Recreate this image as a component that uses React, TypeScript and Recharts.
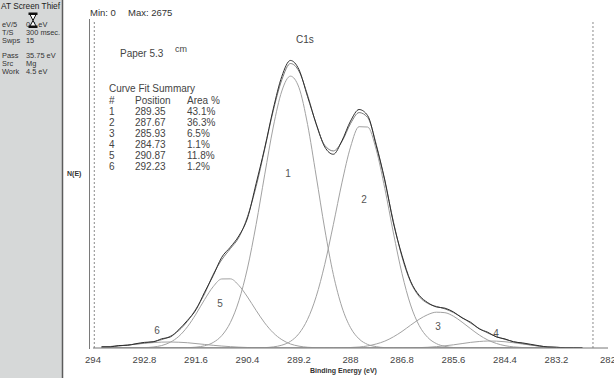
import React from 'react';
import { LineChart, Line, XAxis, YAxis, ReferenceLine } from 'recharts';

// Binding energy grid (eV)
const energy = [
  293.8, 293.6, 293.4, 293.2, 293.0, 292.8, 292.6, 292.4, 292.2, 292.0,
  291.8, 291.6, 291.4, 291.2, 291.0, 290.8, 290.6, 290.4, 290.2, 290.0,
  289.8, 289.6, 289.4, 289.2, 289.0, 288.8, 288.6, 288.4, 288.2, 288.0,
  287.8, 287.6, 287.4, 287.2, 287.0, 286.8, 286.6, 286.4, 286.2, 286.0,
  285.8, 285.6, 285.4, 285.2, 285.0, 284.8, 284.6, 284.4, 284.2, 284.0,
  283.8, 283.6, 283.4, 283.2, 283.0, 282.8, 282.6,
];

// Raw spectrum (counts)
const rawCounts = [
  10, 9, 20, 22, 35, 46, 50, 75, 90, 150,
  225, 312, 455, 590, 740, 822, 915, 1060, 1340, 1630,
  1950, 2215, 2345, 2270, 2050, 1830, 1640, 1580, 1690, 1850,
  1945, 1895, 1650, 1370, 1020, 755, 545, 430, 370, 335,
  325, 294, 245, 210, 156, 128, 90, 74, 50, 42,
  30, 18, 8, 6, 2, 2, 1,
];

// Fitted envelope (counts)
const envelope = [
  8, 12, 17, 24, 32, 41, 52, 68, 96, 143,
  218, 320, 442, 600, 720, 810, 903, 1072, 1316, 1621,
  1936, 2187, 2320, 2256, 2063, 1824, 1653, 1607, 1683, 1830,
  1920, 1880, 1660, 1359, 1030, 743, 539, 420, 364, 339,
  319, 289, 249, 203, 159, 122, 93, 70, 52, 37,
  25, 15, 9, 5, 3, 1, 1,
];

// Fitted components (counts)
const comp1 = [
  0, 0, 0, 0, 0, 0, 0, 0, 0, 1,
  2, 7, 18, 45, 101, 207, 386, 652, 1006, 1412,
  1802, 2096, 2217, 2123, 1823, 1403, 970, 600, 334, 166,
  74, 29, 11, 3, 1, 0, 0, 0, 0, 0,
  0, 0, 0, 0, 0, 0, 0, 0, 0, 0,
  0, 0, 0, 0, 0, 0, 0,
];
const comp2 = [
  0, 0, 0, 0, 0, 0, 0, 0, 0, 0,
  0, 0, 0, 0, 0, 0, 0, 0, 1, 3,
  9, 23, 54, 118, 234, 419, 682, 1006, 1347, 1638,
  1805, 1802, 1616, 1300, 938, 607, 351, 183, 86, 36,
  13, 4, 2, 0, 0, 0, 0, 0, 0, 0,
  0, 0, 0, 0, 0, 0, 0,
];
const comp3 = [
  0, 0, 0, 0, 0, 0, 0, 0, 0, 0,
  0, 0, 0, 0, 0, 0, 0, 0, 0, 0,
  0, 0, 0, 0, 0, 0, 0, 1, 2, 4,
  8, 17, 33, 56, 91, 135, 186, 234, 272, 292,
  288, 259, 211, 157, 106, 65, 37, 19, 9, 4,
  1, 0, 0, 0, 0, 0, 0,
];
const comp4 = [
  0, 0, 0, 0, 0, 0, 0, 0, 0, 0,
  0, 0, 0, 0, 0, 0, 0, 0, 0, 0,
  0, 0, 0, 0, 0, 0, 0, 0, 0, 0,
  0, 0, 0, 0, 0, 1, 2, 3, 6, 11,
  18, 26, 36, 46, 53, 57, 56, 51, 43, 33,
  24, 15, 9, 5, 3, 1, 1,
];
const comp5 = [
  0, 0, 0, 0, 1, 3, 8, 20, 47, 95,
  173, 277, 395, 500, 563, 564, 510, 416, 307, 205,
  124, 68, 33, 15, 6, 2, 1, 0, 0, 0,
  0, 0, 0, 0, 0, 0, 0, 0, 0, 0,
  0, 0, 0, 0, 0, 0, 0, 0, 0, 0,
  0, 0, 0, 0, 0, 0, 0,
];
const comp6 = [
  8, 12, 17, 24, 31, 38, 44, 48, 49, 47,
  43, 36, 29, 22, 16, 11, 7, 4, 2, 1,
  1, 0, 0, 0, 0, 0, 0, 0, 0, 0,
  0, 0, 0, 0, 0, 0, 0, 0, 0, 0,
  0, 0, 0, 0, 0, 0, 0, 0, 0, 0,
  0, 0, 0, 0, 0, 0, 0,
];

const xTicks = [294, 292.8, 291.6, 290.4, 289.2, 288, 286.8, 285.6, 284.4, 283.2, 282];

// Curve fit summary table
const peakIds = ['1', '2', '3', '4', '5', '6'];
const peakPositions = ['289.35', '287.67', '285.93', '284.73', '290.87', '292.23'];
const peakAreas = ['43.1%', '36.3%', '6.5%', '1.1%', '11.8%', '1.2%'];

// Acquisition parameters panel
const paramNames = ['eV/5', 'T/S', 'Swps', 'Pass', 'Src', 'Work'];
const paramValues = ['0.1 eV', '300 msec.', '15', '35.75 eV', 'Mg', '4.5 eV'];

const data = energy.map((e, i) => ({
  e,
  raw: rawCounts[i],
  env: envelope[i],
  c1: comp1[i],
  c2: comp2[i],
  c3: comp3[i],
  c4: comp4[i],
  c5: comp5[i],
  c6: comp6[i],
}));

const FONT = '"Liberation Sans", Arial, sans-serif';
const compColor = '#a2a2a2';

export default function App() {
  const paramY = [27, 35, 43, 58, 66, 74];
  return (
    <div
      style={{
        position: 'fixed',
        left: 0,
        top: 0,
        width: 614,
        height: 378,
        background: '#fff',
        overflow: 'hidden',
        fontFamily: FONT,
      }}
    >
      <div style={{ position: 'absolute', left: 0, top: 0 }}>
        <LineChart
          width={614}
          height={378}
          data={data}
          margin={{ top: 20, right: 6, bottom: 10, left: 93 }}
        >
          <XAxis
            dataKey="e"
            type="number"
            domain={[282, 294]}
            reversed
            ticks={xTicks}
            interval={0}
            allowDataOverflow
            height={20}
            tickLine={false}
            axisLine={{ stroke: '#777', strokeWidth: 1 }}
            tick={{ fontSize: 9.5, fill: '#444', fontFamily: FONT }}
          />
          <YAxis hide domain={[0, 2675]} allowDataOverflow />
          <ReferenceLine x={293.97} stroke="#8a8a8a" strokeDasharray="2 2" />
          <ReferenceLine x={282.35} stroke="#8a8a8a" strokeDasharray="2 2" />
          <Line type="monotone" dataKey="c6" stroke={compColor} strokeWidth={1} dot={false} isAnimationActive={false} />
          <Line type="monotone" dataKey="c5" stroke={compColor} strokeWidth={1} dot={false} isAnimationActive={false} />
          <Line type="monotone" dataKey="c4" stroke={compColor} strokeWidth={1} dot={false} isAnimationActive={false} />
          <Line type="monotone" dataKey="c3" stroke={compColor} strokeWidth={1} dot={false} isAnimationActive={false} />
          <Line type="monotone" dataKey="c2" stroke={compColor} strokeWidth={1} dot={false} isAnimationActive={false} />
          <Line type="monotone" dataKey="c1" stroke={compColor} strokeWidth={1} dot={false} isAnimationActive={false} />
          <Line type="monotone" dataKey="env" stroke="#7a7a7a" strokeWidth={1} dot={false} isAnimationActive={false} />
          <Line type="monotone" dataKey="raw" stroke="#2e2e2e" strokeWidth={1} dot={false} isAnimationActive={false} />
        </LineChart>
      </div>
      <svg
        width={614}
        height={378}
        style={{ position: 'absolute', left: 0, top: 0, pointerEvents: 'none' }}
      >
        {/* left parameter panel */}
        <rect x={0} y={0} width={62} height={378} fill="#d6d8d8" />
        <line x1={62.5} y1={0} x2={62.5} y2={378} stroke="#5c5c5c" strokeWidth={1.5} />
        <text x={1} y={9} fontSize={8.3} fill="#222" fontFamily={FONT}>AT Screen Thief</text>
        {paramNames.map((n, i) => (
          <text key={n} x={2} y={paramY[i]} fontSize={7.4} fill="#333" fontFamily={FONT}>{n}</text>
        ))}
        {paramValues.map((v, i) => (
          <text key={v} x={26} y={paramY[i]} fontSize={7.4} fill="#333" fontFamily={FONT}>{v}</text>
        ))}
        {/* hourglass cursor */}
        <g stroke="#111" strokeWidth={1} fill="#fff">
          <rect x={29} y={13} width={8} height={1.5} fill="#111" />
          <rect x={29} y={26} width={8} height={1.5} fill="#111" />
          <polygon points="30,14.5 36,14.5 33,20.5" />
          <polygon points="30,26 36,26 33,20.5" />
        </g>

        {/* frame */}
        <line x1={89.5} y1={19} x2={89.5} y2={349} stroke="#7a7a7a" strokeWidth={1} />

        {/* header texts */}
        <text x={90} y={16} fontSize={9.5} fill="#333" fontFamily={FONT}>Min: 0</text>
        <text x={128} y={16} fontSize={9.5} fill="#333" fontFamily={FONT}>Max: 2675</text>
        <text x={296} y={43} fontSize={10} fill="#444" fontFamily={FONT}>C1s</text>
        <text x={120} y={57} fontSize={10} fill="#444" fontFamily={FONT}>Paper 5.3</text>
        <text x={175} y={52} fontSize={9} fill="#444" fontFamily={FONT}>cm</text>

        {/* curve fit summary */}
        <text x={109} y={92} fontSize={10} fill="#444" fontFamily={FONT}>Curve Fit Summary</text>
        <text x={109} y={104} fontSize={10} fill="#444" fontFamily={FONT}>#</text>
        <text x={135} y={104} fontSize={10} fill="#444" fontFamily={FONT}>Position</text>
        <text x={187} y={104} fontSize={10} fill="#444" fontFamily={FONT}>Area %</text>
        {peakIds.map((id, i) => (
          <g key={id}>
            <text x={109} y={115 + i * 11} fontSize={10} fill="#444" fontFamily={FONT}>{id}</text>
            <text x={135} y={115 + i * 11} fontSize={10} fill="#444" fontFamily={FONT}>{peakPositions[i]}</text>
            <text x={187} y={115 + i * 11} fontSize={10} fill="#444" fontFamily={FONT}>{peakAreas[i]}</text>
          </g>
        ))}

        {/* peak labels */}
        <text x={288} y={177} fontSize={10} fill="#555" textAnchor="middle" fontFamily={FONT}>1</text>
        <text x={364} y={203} fontSize={10} fill="#555" textAnchor="middle" fontFamily={FONT}>2</text>
        <text x={438} y={330} fontSize={10} fill="#555" textAnchor="middle" fontFamily={FONT}>3</text>
        <text x={496} y={337} fontSize={10} fill="#555" textAnchor="middle" fontFamily={FONT}>4</text>
        <text x={220} y={307} fontSize={10} fill="#555" textAnchor="middle" fontFamily={FONT}>5</text>
        <text x={157} y={334} fontSize={10} fill="#555" textAnchor="middle" fontFamily={FONT}>6</text>

        {/* axis titles */}
        <text x={67} y={176} fontSize={7} fontWeight="bold" fill="#333" fontFamily={FONT}>N(E)</text>
        <text x={310} y={373} fontSize={7} fontWeight="bold" fill="#333" fontFamily={FONT}>Binding Energy (eV)</text>
      </svg>
    </div>
  );
}
